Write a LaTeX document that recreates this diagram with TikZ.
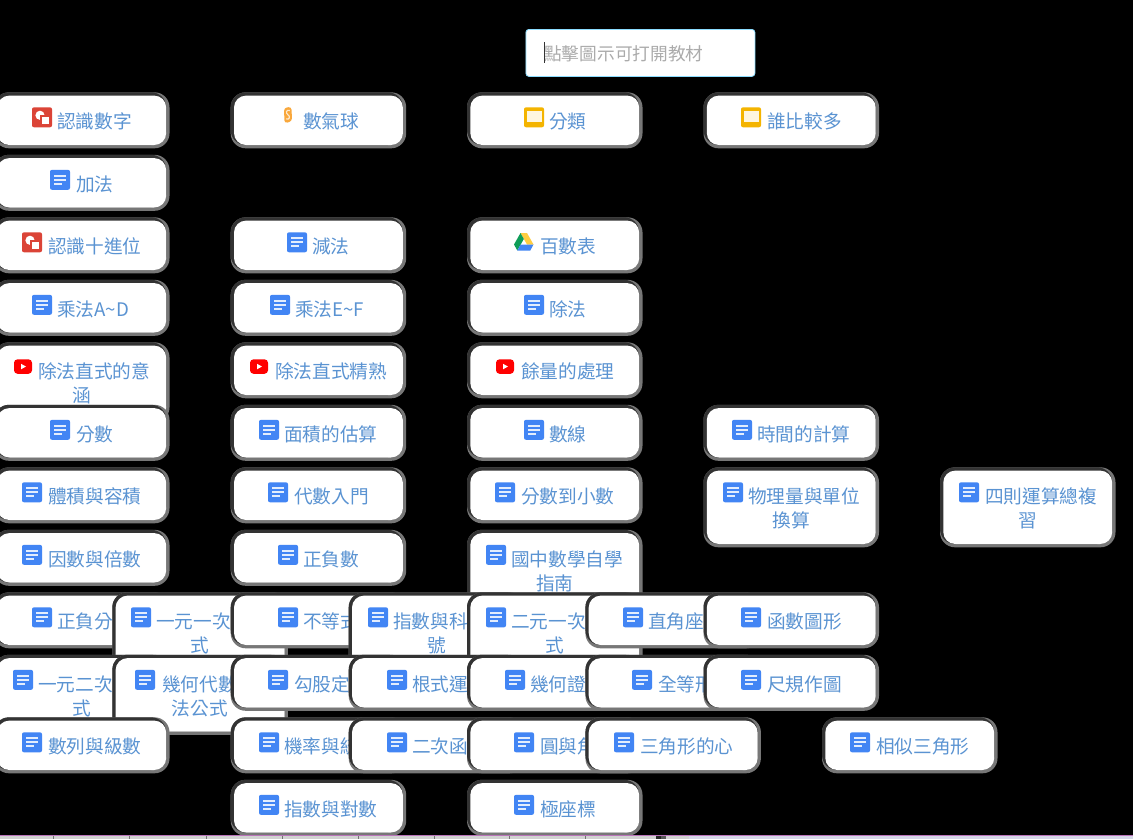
\documentclass[tikz,border=0pt]{standalone}
\usepackage{fontspec}
\setmainfont{Noto Sans CJK TC}
\definecolor{bddark}{HTML}{333333}
\definecolor{bdgray}{HTML}{777777}
\definecolor{txtblue}{HTML}{5A93D2}
\definecolor{docblue}{HTML}{4285F4}
\definecolor{slideyellow}{HTML}{F4B400}
\definecolor{drawred}{HTML}{DB4437}
\definecolor{ytred}{HTML}{FF0000}
\definecolor{scratchor}{HTML}{F9A83C}
\definecolor{drivegreen}{HTML}{0F9D58}
\definecolor{driveyellow}{HTML}{FFCD40}
\tikzset{
  plate/.style={fill=white,rounded corners=12pt,inner sep=0pt,outer sep=0pt,anchor=north west},
  outerrc/.style={rounded corners=15pt},
  boxtext/.style={font=\fontsize{18.67pt}{23pt}\selectfont,text=txtblue,inner sep=0pt,text height=14pt,text depth=3pt},
}
% icons: x, y of top-left corner of a 20 x 20 icon
\newcommand\icondoc[2]{\begin{scope}[shift={(#1,#2)}]
  \fill[docblue,rounded corners=2pt] (0,0) rectangle (20,20);
  \draw[white!85!docblue,line width=2pt] (4,6)--(16,6) (4,10)--(16,10) (4,14)--(12,14);
\end{scope}}
\newcommand\iconslide[2]{\begin{scope}[shift={(#1,#2)}]
  \fill[slideyellow,rounded corners=2pt] (0,0) rectangle (20,20);
  \fill[white!88!slideyellow] (2.5,4) rectangle (17.5,15);
\end{scope}}
\newcommand\icondraw[2]{\begin{scope}[shift={(#1,#2)}]
  \fill[drawred,rounded corners=2pt] (0,0) rectangle (20,20);
  \fill[white] (8,8) circle (4.6pt);
  \fill[drawred] (8,8) rectangle (18.5,18);
  \fill[white] (10,10) rectangle (17,17);
\end{scope}}
\newcommand\iconyt[2]{\begin{scope}[shift={(#1,#2)}]
  \fill[ytred,rounded corners=3.5pt] (0,0) rectangle (18,14.5);
  \fill[white] (7,4.5) -- (12,7.25) -- (7,10) -- cycle;
\end{scope}}
\newcommand\icondrive[2]{\begin{scope}[shift={(#1,#2)}]
  \fill[driveyellow] (6.5,0) -- (13,0) -- (19.5,11.5) -- (13,11.5) -- cycle;
  \fill[drivegreen] (6.5,0) -- (0,11.5) -- (3.3,17.5) -- (9.8,6) -- cycle;
  \fill[docblue] (3.3,17.5) -- (16.3,17.5) -- (19.5,11.5) -- (6.6,11.5) -- cycle;
\end{scope}}
\newcommand\iconscratch[2]{\begin{scope}[shift={(#1,#2)}]
  \fill[scratchor,rounded corners=3pt] (1,0.5) -- (8.5,-0.5) -- (9,14) -- (1.5,16) -- cycle;
  \draw[white!75!scratchor,line width=1.1pt] (6.8,3.2) .. controls (3,1.8) and (2.5,6) .. (5,7.5) .. controls (7.6,9) and (6.5,13) .. (3,11.6);
\end{scope}}
% box plate: name, x, y, h
\newcommand\plateat[4]{%
  \fill[bdgray,outerrc] (#2,#3) rectangle ({#2+175.5},{#3+#4});
  \fill[bddark,outerrc] (#2,#3) rectangle ({#2+172.2},{#3+#4-3.3});
  \node[plate,minimum width=168.9pt,minimum height={(#4-6.6)*1pt}] (#1) at ({#2+3.3},{#3+3.3}) {};
}
% name, x, y, h, icon macro, icon x, text x, text
\newcommand\bx[8]{%
  \plateat{#1}{#2}{#3}{#4}
  \csname icon#5\endcsname{#6}{#3+15}
  \node[boxtext,anchor=west] (#1-t) at (#7,{#3+31}) {#8};
}
% with a second, centred line: ... , text, second line
\newcommand\bxtwo[9]{%
  \bx{#1}{#2}{#3}{#4}{#5}{#6}{#7}{#8}
  \node[boxtext] (#1-u) at ({#2+87.7},{#3+55}) {#9};
}
\begin{document}
\begin{tikzpicture}[x=1pt,y=-1pt]
\fill[black] (0,0) rectangle (1133,839);
\useasboundingbox (0,0) rectangle (1133,839);
% prompt box
\node[fill=white,draw=blue!30!cyan!45!white,line width=0.8pt,rounded corners=3pt,minimum width=229pt,minimum height=47pt,inner sep=0pt,anchor=north west] (prompt) at (525.5,29) {};
\node[anchor=west,inner sep=0pt,text=black!33,font=\fontsize{17.7pt}{22pt}\selectfont,text height=14pt,text depth=3pt] (prompt-t) at (544,55) {點擊圖示可打開教材};
\draw[black!80,line width=0.8pt] (prompt-t.west |- 0,42) coordinate (cura) -- (prompt-t.west |- 0,63) coordinate (curb);
% rows
\def\rA{92.3}\def\rB{154.8}\def\rC{217.3}\def\rD{279.8}\def\rE{342.3}\def\rF{404.8}
\def\rG{467.3}\def\rH{529.8}\def\rI{592.3}\def\rJ{654.8}\def\rK{717.3}\def\rL{779.8}
\bx{a1}{-6}{\rA}{56}{draw}{32}{57}{認識數字}
\bx{a2}{230.7}{\rA}{56}{scratch}{283}{303}{數氣球}
\bx{a3}{467}{\rA}{56}{slide}{524}{549}{分類}
\bx{a4}{703.5}{\rA}{56}{slide}{741}{767}{誰比較多}
\bx{b1}{-6}{\rB}{56}{doc}{50}{76}{加法}
\bx{c1}{-6}{\rC}{56}{draw}{22}{48}{認識十進位}
\bx{c2}{230.7}{\rC}{56}{doc}{287}{312}{減法}
\plateat{c3}{467}{\rC}{56}
\icondrive{514}{233}
\node[boxtext,anchor=west] (c3-t) at (540,{\rC+31}) {百數表};
\bx{d1}{-6}{\rD}{56}{doc}{32}{57}{乘法A{\char"7E}D}
\bx{d2}{230.7}{\rD}{56}{doc}{270}{295}{乘法E{\char"7E}F}
\bx{d3}{467}{\rD}{56}{doc}{524}{549}{除法}
\plateat{e1}{-6}{\rE}{80}
\iconyt{14}{359.3}
\node[boxtext,anchor=west] (e1-t) at (38,{\rE+31}) {除法直式的意};
\node[boxtext] (e1-u) at (81.7,{\rE+55}) {涵};
\plateat{e2}{230.7}{\rE}{56}
\iconyt{250}{359.3}
\node[boxtext,anchor=west] (e2-t) at (275,{\rE+31}) {除法直式精熟};
\plateat{e3}{467}{\rE}{56}
\iconyt{496}{359.3}
\node[boxtext,anchor=west] (e3-t) at (521,{\rE+31}) {餘量的處理};
\bx{f1}{-6}{\rF}{56}{doc}{50}{76}{分數}
\bx{f2}{230.7}{\rF}{56}{doc}{259}{284}{面積的估算}
\bx{f3}{467}{\rF}{56}{doc}{524}{549}{數線}
\bx{f4}{703.5}{\rF}{56}{doc}{732}{757}{時間的計算}
\bx{g1}{-6}{\rG}{56}{doc}{22}{48}{體積與容積}
\bx{g2}{230.7}{\rG}{56}{doc}{268}{294}{代數入門}
\bx{g3}{467}{\rG}{56}{doc}{495}{521}{分數到小數}
\bxtwo{g4}{703.5}{\rG}{80}{doc}{723}{748}{物理量與單位}{換算}
\bxtwo{g5}{940}{\rG}{80}{doc}{959}{985}{四則運算總複}{習}
\bx{h1}{-6}{\rH}{56}{doc}{22}{48}{因數與倍數}
\bx{h2}{230.7}{\rH}{56}{doc}{278}{303}{正負數}
\bxtwo{h3}{467}{\rH}{80}{doc}{486}{511}{國中數學自學}{指南}
\bx{i1}{-6}{\rI}{56}{doc}{32}{57}{正負分}
\bxtwo{i2}{112.3}{\rI}{80}{doc}{131}{156}{一元一次}{式}
\bx{i3}{230.7}{\rI}{56}{doc}{278}{303}{不等式}
\bxtwo{i4}{348.7}{\rI}{80}{doc}{368}{393}{指數與科}{號}
\bxtwo{i5}{467}{\rI}{80}{doc}{486}{511}{二元一次}{式}
\bx{i6}{585.4}{\rI}{56}{doc}{623}{648}{直角座}
\bx{i7}{703.5}{\rI}{56}{doc}{741}{767}{函數圖形}
\bxtwo{j1}{-6}{\rJ}{80}{doc}{13}{38}{一元二次}{式}
\bxtwo{j2}{112.3}{\rJ}{80}{doc}{135}{162}{幾何代數}{法公式}
\bx{j3}{230.7}{\rJ}{56}{doc}{268}{294}{勾股定}
\bx{j4}{348.7}{\rJ}{56}{doc}{387}{412}{根式運}
\bx{j5}{467}{\rJ}{56}{doc}{505}{530}{幾何證}
\bx{j6}{585.4}{\rJ}{56}{doc}{632}{658}{全等形}
\bx{j7}{703.5}{\rJ}{56}{doc}{741}{767}{尺規作圖}
\bx{k1}{-6}{\rK}{56}{doc}{22}{48}{數列與級數}
\bx{k2}{230.7}{\rK}{56}{doc}{259}{284}{機率與統}
\bx{k3}{348.7}{\rK}{56}{doc}{387}{412}{二次函}
\bx{k4}{467}{\rK}{56}{doc}{514}{540}{圓與角}
\bx{k5}{585.4}{\rK}{56}{doc}{614}{640}{三角形的心}
\bx{k6}{822}{\rK}{56}{doc}{850}{876}{相似三角形}
\bx{l1}{230.7}{\rL}{56}{doc}{259}{284}{指數與對數}
\bx{l2}{467}{\rL}{56}{doc}{514}{540}{極座標}
% bottom strip
\fill[black!18] (0,835) rectangle (689,839);
\fill[black!85!white] (656,836) rectangle (661,839);
\fill[black!65] (661,836) rectangle (666,839);
\fill[black!35!blue!12!white!95!black] (689,836) rectangle (1133,839);
\fill[violet!55!white] (0,834.8) rectangle (1133,836);
\foreach \tx in {53.5,129.7,205.9,282,358.2,434.4,509.5,585.5}
  \draw[black!55,line width=0.7pt] (\tx,836) -- (\tx,839);
\end{tikzpicture}
\end{document}
